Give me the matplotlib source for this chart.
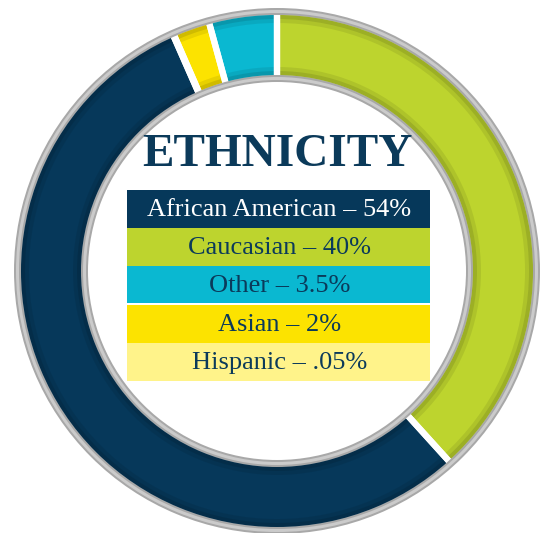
import matplotlib
matplotlib.use("Agg")
import matplotlib.pyplot as plt
from matplotlib.patches import Wedge, Rectangle

# ---- data ----
categories = ["Caucasian", "African American", "Hispanic", "Asian", "Other"]
arc_shares = [38.3, 55.1, 0.05, 2.3, 4.25]          # drawn arc sizes
ring_colors = ["#BDD42E", "#06385A", "#FFF38A", "#FCE300", "#0AB8D1"]

legend_labels = ["African American \u2013 54%", "Caucasian \u2013 40%", "Other \u2013 3.5%",
                 "Asian \u2013 2%", "Hispanic \u2013 .05%"]
legend_colors = ["#06385A", "#BDD42E", "#0AB8D1", "#FCE300", "#FFF38A"]
legend_text_colors = ["white", "#0B3A5A", "#0B3A5A", "#0B3A5A", "#0B3A5A"]
title = "ETHNICITY"

W, H = 549, 533
fig = plt.figure(figsize=(W / 100, H / 100), dpi=100)
ax = fig.add_axes([0, 0, 1, 1])

cx, cy = 277, H - 271
R_out, R_in = 263, 189
gray_w = 7

# colored ring
ax.pie(arc_shares, colors=ring_colors, startangle=90, counterclock=False,
       radius=R_out, center=(cx, cy),
       wedgeprops=dict(width=R_out - R_in, linewidth=0))

# subtle shading near band edges
for r, w, a in [(R_out - gray_w, 8, 0.08), (R_out - gray_w, 4, 0.10),
                (R_in + gray_w + 8, 8, 0.08), (R_in + gray_w + 4, 4, 0.10)]:
    ax.add_patch(Wedge((cx, cy), r, 0, 360, width=w, facecolor="black",
                       alpha=a, linewidth=0))

# white separators
ax.pie(arc_shares, colors=["none"] * len(arc_shares), startangle=90, counterclock=False,
       radius=R_out, center=(cx, cy),
       wedgeprops=dict(width=R_out - R_in, linewidth=4.5, edgecolor="white",
                       facecolor="none"))

# gray bevel rings
for r0 in (R_out, R_in + gray_w):
    ax.add_patch(Wedge((cx, cy), r0, 0, 360, width=gray_w, facecolor="#A8A8A8", linewidth=0))
    ax.add_patch(Wedge((cx, cy), r0 - 2, 0, 360, width=gray_w - 4, facecolor="#CBCBCB", linewidth=0))

# title
ax.text(cx, H - 166, title, ha="center", va="baseline", fontsize=34,
        fontweight="bold", family="Liberation Serif", color="#0B3A5A")

# legend table
x0, x1 = 127, 430
rows = [(190, 227.7), (227.7, 265.7), (265.7, 303.3), (305, 342.7), (342.7, 381)]
for (top, bot), lab, col, tcol in zip(rows, legend_labels, legend_colors, legend_text_colors):
    ax.add_patch(Rectangle((x0, H - bot), x1 - x0, bot - top, facecolor=col, linewidth=0))
    ax.text((x0 + x1) / 2 + 1, H - (top + bot) / 2 - 1, lab, ha="center", va="center",
            fontsize=19, family="Liberation Serif", color=tcol)

ax.set_xlim(0, W)
ax.set_ylim(0, H)
ax.set_aspect("auto")
ax.axis("off")
fig.savefig("out.png", dpi=100, facecolor="white")
